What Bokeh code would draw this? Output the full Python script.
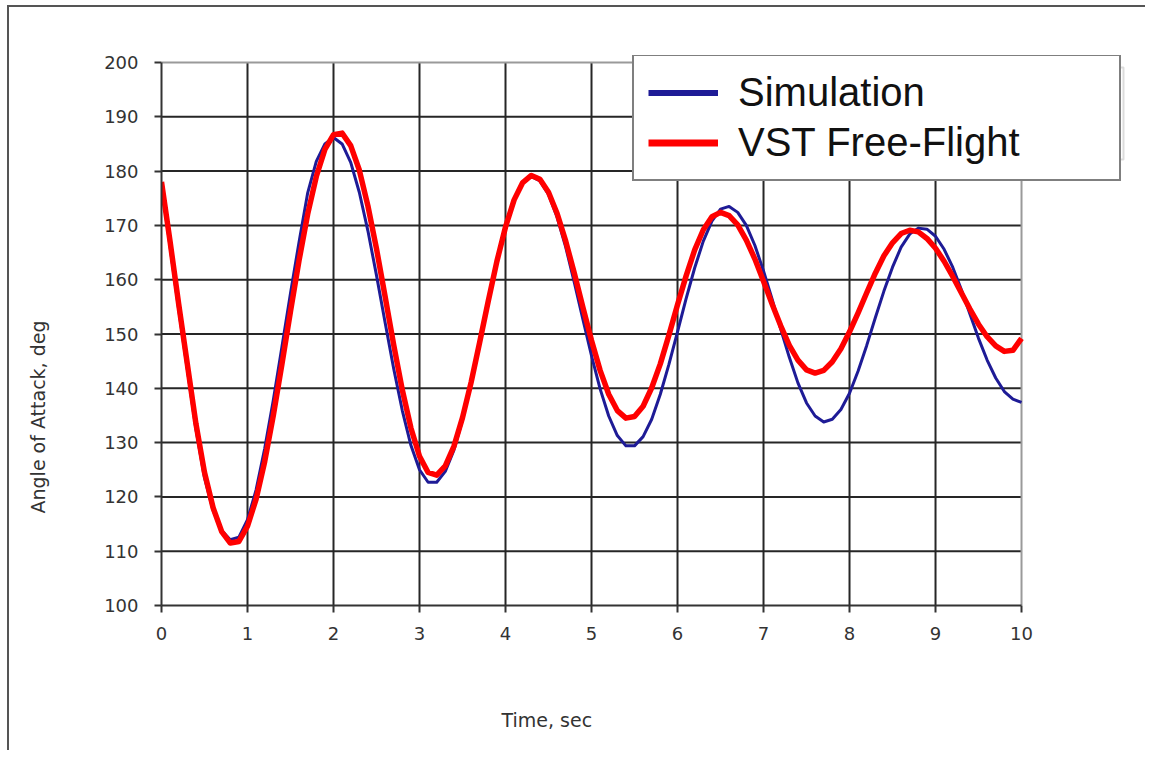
from bokeh.plotting import figure
from bokeh.models import Range1d, FixedTicker, Legend, LegendItem, BoxAnnotation, Title
from bokeh.embed import file_html
from bokeh.resources import INLINE

# ---- data ----
times = [round(i * 0.1, 1) for i in range(101)]

simulation = [
    177.5, 166.0, 154.5, 143.5, 132.5, 123.5, 117.5, 113.8, 112.1, 112.6,
    115.8, 121.3, 128.9, 137.8, 147.6, 157.5, 167.0, 176.0, 181.8, 185.0,
    186.2, 185.0, 181.6, 176.1, 169.0, 160.8, 152.1, 143.6, 135.9, 129.5,
    125.0, 122.7, 122.7, 124.7, 128.6, 134.2, 140.9, 148.4, 156.0, 163.3,
    169.6, 174.6, 177.8, 179.0, 178.2, 175.7, 171.5, 166.0, 159.5, 152.7,
    146.0, 139.9, 134.9, 131.3, 129.4, 129.4, 131.1, 134.3, 138.9, 144.4,
    150.4, 156.5, 162.2, 167.1, 170.8, 173.0, 173.5, 172.4, 170.0, 166.3,
    161.6, 156.4, 150.9, 145.7, 141.0, 137.3, 134.9, 133.8, 134.3, 136.1,
    139.1, 143.2, 147.9, 153.0, 157.9, 162.3, 166.0, 168.4, 169.5, 169.3,
    168.0, 165.6, 162.3, 158.2, 153.7, 149.2, 145.2, 141.9, 139.4, 138.0,
    137.4,
]

free_flight = [
    178.0, 167.0, 155.5, 144.5, 133.5, 124.5, 118.0, 113.6, 111.5, 111.8,
    114.6, 119.6, 126.5, 135.0, 144.4, 154.2, 163.6, 172.1, 179.0, 184.0,
    186.7, 187.0, 184.7, 180.2, 173.6, 165.7, 156.9, 148.0, 139.7, 132.7,
    127.5, 124.5, 124.0, 125.7, 129.3, 134.6, 141.1, 148.5, 156.1, 163.4,
    169.7, 174.7, 177.9, 179.2, 178.5, 176.1, 172.2, 167.1, 161.2, 154.9,
    148.8, 143.3, 138.9, 135.9, 134.5, 134.8, 136.7, 140.1, 144.5, 149.8,
    155.4, 160.7, 165.5, 169.2, 171.6, 172.4, 171.8, 170.1, 167.3, 163.8,
    159.7, 155.5, 151.5, 147.9, 145.2, 143.4, 142.8, 143.3, 144.9, 147.3,
    150.4, 153.9, 157.6, 161.2, 164.4, 166.8, 168.5, 169.1, 168.8, 167.6,
    165.8, 163.4, 160.6, 157.6, 154.6, 151.8, 149.5, 147.8, 146.8, 147.0,
    149.2,
]

x_ticks = [0, 1, 2, 3, 4, 5, 6, 7, 8, 9, 10]
y_ticks = [100, 110, 120, 130, 140, 150, 160, 170, 180, 190, 200]
series_names = ["Simulation", "VST Free-Flight"]
x_title = "Time, sec"
y_title = "Angle of Attack, deg"

BLUE = "#1E1B96"
RED = "#FF0000"
GRID = "#262626"
EDGE = "#9a9a9a"
TEXT = "#333333"

# The plotting frame is widened to the right and top so that the legend,
# which in the reference sticks out past the x=10 edge, is not clipped.
# Axes and grid lines are bounded to the 0..10 / 100..200 data box.
p = figure(
    frame_width=964, frame_height=550,
    x_range=Range1d(0, 11.209), y_range=Range1d(100, 201.29),
    output_backend="svg", toolbar_location=None,
    min_border_left=152, min_border_right=20,
    min_border_top=48, min_border_bottom=145,
    background_fill_color="white", border_fill_color="white",
)
p.styles = {"border-left": "2px solid #555555", "border-top": "2px solid #555555",
            "margin-left": "7px", "margin-top": "5px"}
p.outline_line_color = None
p.grid.visible = False

for ax, ticks in ((p.xaxis, x_ticks), (p.yaxis, y_ticks)):
    ax.ticker = FixedTicker(ticks=ticks)
    ax.bounds = (ticks[0], ticks[-1])
    ax.minor_tick_line_color = None
    ax.major_tick_in = 0
    ax.major_tick_out = 7
    ax.major_tick_line_color = TEXT
    ax.major_tick_line_width = 2
    ax.axis_line_color = TEXT
    ax.axis_line_width = 2
    ax.major_label_text_font = "DejaVu Sans"
    ax.major_label_text_font_size = "18px"
    ax.major_label_text_color = TEXT
    # blank axis label: only reserves room so the titles sit further out
    ax.axis_label = " "
    ax.axis_label_text_font = "DejaVu Sans"
    ax.axis_label_text_font_size = "19px"
p.xaxis.major_label_standoff = 14
p.yaxis.major_label_standoff = 16
p.xaxis.axis_label_standoff = 39
p.yaxis.axis_label_standoff = 26

# axis titles placed like in the reference (not centred on the frame)
xt = Title(text=x_title, align="left", offset=340, standoff=4, vertical_align="top",
           text_font="DejaVu Sans", text_font_size="19px", text_font_style="normal",
           text_color=TEXT)
p.add_layout(xt, "below")
yt = Title(text=y_title, align="left", offset=92, standoff=4, vertical_align="bottom",
           text_font="DejaVu Sans", text_font_size="19px", text_font_style="normal",
           text_color=TEXT)
p.add_layout(yt, "left")

# grid lines, bounded to the data box
inner_x = x_ticks[1:-1]
inner_y = y_ticks[1:-1]
p.segment(x0=inner_x, y0=[y_ticks[0]] * len(inner_x), x1=inner_x, y1=[y_ticks[-1]] * len(inner_x),
          line_color=GRID, line_width=2)
p.segment(x0=[x_ticks[0]] * len(inner_y), y0=inner_y, x1=[x_ticks[-1]] * len(inner_y), y1=inner_y,
          line_color=GRID, line_width=2)
# lighter top and right edges of the data box
p.segment(x0=[x_ticks[0], x_ticks[-1]], y0=[y_ticks[-1], y_ticks[0]],
          x1=[x_ticks[-1], x_ticks[-1]], y1=[y_ticks[-1], y_ticks[-1]],
          line_color=EDGE, line_width=2)

sim_r = p.line(times, simulation, line_color=BLUE, line_width=3, line_join="round")
vst_r = p.line(times, free_flight, line_color=RED, line_width=5.5, line_join="round")

# one-point lines (draw nothing) used only for the thicker legend samples
leg_b = p.line(times[:1], simulation[:1], line_color=BLUE, line_width=6)
leg_r = p.line(times[:1], free_flight[:1], line_color=RED, line_width=7)

# faint box behind the legend
shadow = BoxAnnotation(left=680, right=1112, top=58, bottom=150,
                       left_units="canvas", right_units="canvas",
                       top_units="canvas", bottom_units="canvas",
                       fill_alpha=0, line_color="#8a8a8a", line_width=2)
p.add_layout(shadow)

legend = Legend(
    items=[LegendItem(label=series_names[0], renderers=[leg_b]),
           LegendItem(label=series_names[1], renderers=[leg_r])],
    location=(471, 424), margin=0, padding=14, spacing=5,
    glyph_width=70, glyph_height=45, label_standoff=20, label_width=367,
    label_text_font="Liberation Sans", label_text_font_size="40px",
    label_text_color="#111111",
    border_line_color="black", border_line_width=2,
    background_fill_color="white", background_fill_alpha=1,
)
p.add_layout(legend)

open("out.html", "w").write(file_html(p, INLINE))
